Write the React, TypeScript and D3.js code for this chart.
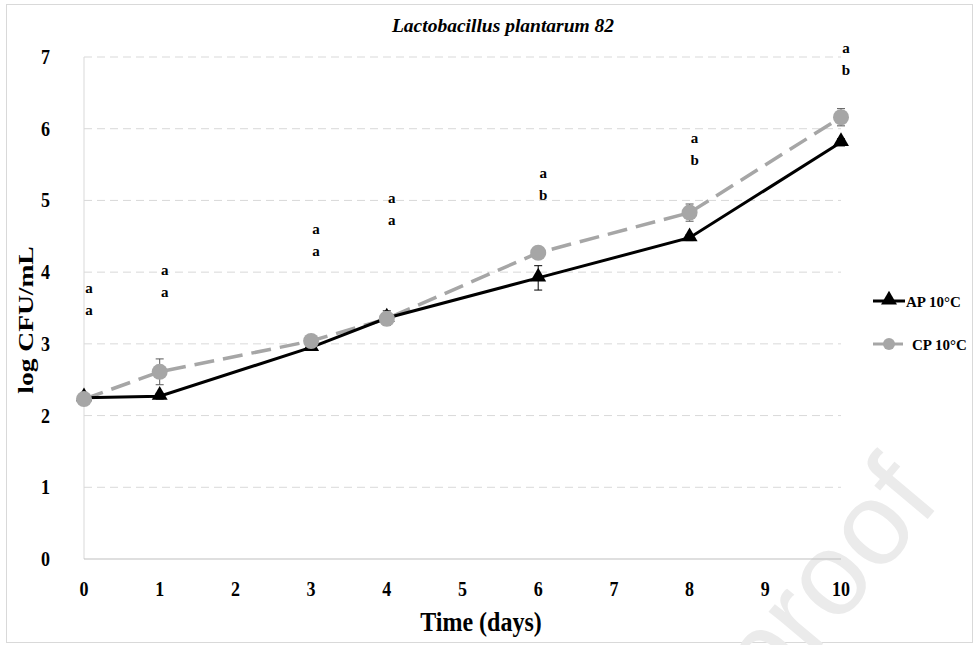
import React from 'react';
import * as d3 from 'd3';

const days = [0, 1, 3, 4, 6, 8, 10];
const apValues = [2.25, 2.27, 2.95, 3.36, 3.92, 4.48, 5.81];
const apErrors = [0.04, 0.04, 0.04, 0.1, 0.17, 0.04, 0.05];
const cpValues = [2.23, 2.61, 3.04, 3.35, 4.27, 4.83, 6.16];
const cpErrors = [0.04, 0.18, 0.04, 0.05, 0.06, 0.12, 0.12];
const letterTop = ['a', 'a', 'a', 'a', 'a', 'a', 'a'];
const letterBottom = ['a', 'a', 'a', 'a', 'b', 'b', 'b'];
const letterLevel = [3.78, 4.03, 4.6, 5.03, 5.38, 5.87, 7.13];
const xTicks = [0, 1, 2, 3, 4, 5, 6, 7, 8, 9, 10];
const yTicks = [0, 1, 2, 3, 4, 5, 6, 7];

const font = '"Liberation Serif", "Times New Roman", serif';

export default function App() {
  const W = 974;
  const H = 645;
  const x = d3.scaleLinear().domain([0, 10]).range([84, 841]);
  const y = d3.scaleLinear().domain([0, 7]).range([559, 57]);

  const ap = days.map((d, i) => ({ d, v: apValues[i], e: apErrors[i] }));
  const cp = days.map((d, i) => ({ d, v: cpValues[i], e: cpErrors[i] }));
  const line = d3
    .line<{ d: number; v: number }>()
    .x((p) => x(p.d))
    .y((p) => y(p.v));
  const tri = d3.symbol().type(d3.symbolTriangle).size(110)();

  // text squeezed like the reference raster
  const tick = (key: string | number, tx: number, ty: number, label: string | number, anchor: string) => (
    <text
      key={key}
      transform={`translate(${tx},${ty}) scale(0.9,1.05)`}
      textAnchor={anchor}
      fontSize={20}
      fontWeight="bold"
    >
      {label}
    </text>
  );

  return (
    <svg
      width={W}
      height={H}
      style={{ position: 'absolute', left: 0, top: 0, fontFamily: font }}
    >
      <rect x={0} y={0} width={W} height={H} fill="#fff" />
      <rect x={6.5} y={4.5} width={966} height={638} fill="none" stroke="#d9d9d9" />

      {/* watermark */}
      <text
        x={0}
        y={0}
        transform="translate(942, 502) rotate(-50)"
        textAnchor="end"
        fontFamily='"Liberation Sans", Arial, sans-serif'
        fontSize={118}
        fill="#ebebeb"
      >
        Journal Pre-proof
      </text>

      <text x={503} y={32} textAnchor="middle" fontSize={19.5} fontStyle="italic" fontWeight="bold">
        Lactobacillus plantarum 82
      </text>

      {/* grid */}
      {yTicks.slice(1).map((t) => (
        <line
          key={t}
          x1={x(0)}
          x2={x(10)}
          y1={y(t)}
          y2={y(t)}
          stroke="#d9d9d9"
          strokeWidth={1}
          strokeDasharray="8,5"
        />
      ))}
      <line x1={x(0)} x2={x(0)} y1={y(7)} y2={y(0)} stroke="#d9d9d9" />
      <line x1={x(0)} x2={x(10)} y1={y(0)} y2={y(0)} stroke="#bfbfbf" />

      {/* ticks */}
      {yTicks.map((t) => tick('y' + t, 50, y(t) + 7, t, 'end'))}
      {xTicks.map((t) => tick('x' + t, x(t), 596, t, 'middle'))}

      <text
        transform="translate(33, 320) rotate(-90) scale(1.25,1)"
        textAnchor="middle"
        fontSize={22}
        fontWeight="bold"
      >
        log CFU/mL
      </text>
      <text
        transform="translate(481, 631) scale(1,1.1)"
        textAnchor="middle"
        fontSize={24}
        fontWeight="bold"
      >
        Time (days)
      </text>

      {/* letters */}
      {days.map((d, i) => (
        <g key={d} fontSize={15} fontWeight="bold" textAnchor="middle">
          <text x={x(d) + 5} y={y(letterLevel[i]) + 5}>
            {letterTop[i]}
          </text>
          <text x={x(d) + 5} y={y(letterLevel[i]) + 27}>
            {letterBottom[i]}
          </text>
        </g>
      ))}

      {/* CP series */}
      <path
        d={line(cp) || ''}
        fill="none"
        stroke="#a6a6a6"
        strokeWidth={3.5}
        strokeDasharray="20,9"
      />
      {/* AP series */}
      <path d={line(ap) || ''} fill="none" stroke="#000" strokeWidth={3} />

      {ap.map((p) => (
        <g key={'ape' + p.d} stroke="#000" strokeWidth={1}>
          <line x1={x(p.d)} x2={x(p.d)} y1={y(p.v - p.e)} y2={y(p.v + p.e)} />
          <line x1={x(p.d) - 4} x2={x(p.d) + 4} y1={y(p.v - p.e)} y2={y(p.v - p.e)} />
          <line x1={x(p.d) - 4} x2={x(p.d) + 4} y1={y(p.v + p.e)} y2={y(p.v + p.e)} />
        </g>
      ))}
      {ap.map((p) => (
        <path key={'ap' + p.d} d={tri || ''} transform={`translate(${x(p.d)},${y(p.v) - 1})`} fill="#000" />
      ))}

      {cp.map((p) => (
        <g key={'cpe' + p.d} stroke="#595959" strokeWidth={1}>
          <line x1={x(p.d)} x2={x(p.d)} y1={y(p.v - p.e)} y2={y(p.v + p.e)} />
          <line x1={x(p.d) - 4} x2={x(p.d) + 4} y1={y(p.v - p.e)} y2={y(p.v - p.e)} />
          <line x1={x(p.d) - 4} x2={x(p.d) + 4} y1={y(p.v + p.e)} y2={y(p.v + p.e)} />
        </g>
      ))}
      {cp.map((p) => (
        <circle key={'cp' + p.d} cx={x(p.d)} cy={y(p.v)} r={8} fill="#a6a6a6" />
      ))}

      {/* legend */}
      <g>
        <line x1={873} x2={905} y1={301} y2={301} stroke="#000" strokeWidth={3} />
        <path d={tri || ''} transform="translate(889,300)" fill="#000" />
        <text x={906} y={307} fontSize={15} fontWeight="bold">
          AP 10°C
        </text>
        <line x1={873} x2={903} y1={344} y2={344} stroke="#a6a6a6" strokeWidth={3} />
        <circle cx={889} cy={344} r={6} fill="#a6a6a6" />
        <text x={912} y={350} fontSize={15} fontWeight="bold">
          CP 10°C
        </text>
      </g>
    </svg>
  );
}
